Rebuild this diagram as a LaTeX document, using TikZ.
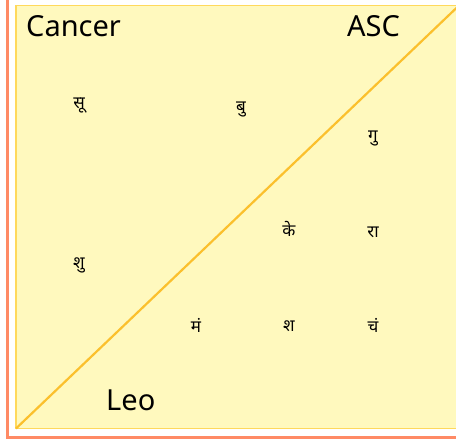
\documentclass[tikz,border=0pt]{standalone}
\usepackage{fontspec}
\setmainfont{Noto Sans}
\newfontfamily\deva[Script=Devanagari]{Noto Sans}
\definecolor{salmon}{HTML}{FF8A65}
\definecolor{boxfill}{HTML}{FFF9BE}
\definecolor{boxline}{HTML}{FFD95C}
\definecolor{diag}{HTML}{FBC02D}
\tikzset{
  lbl/.style={font=\fontsize{29}{32}\selectfont, inner sep=0pt, text=black},
  pl/.style={font=\deva\fontsize{17}{19}\selectfont, inner sep=0pt, text=black},
}
\begin{document}
\begin{tikzpicture}[x=1pt,y=-1pt]
\useasboundingbox (0,0) rectangle (456,439);
\begin{scope}
\clip (0,0) rectangle (456,439);
\draw[salmon, line width=2.6pt] (7.3,-10) rectangle (480,437.6);
\coordinate (bl) at (16,428.5);
\coordinate (tr) at (459,5.5);
\fill[boxfill] (bl) rectangle (tr);
\draw[boxline, line width=1.5pt] (bl) rectangle (tr);
\draw[diag, line width=2.2pt] (bl) -- (tr);
\end{scope}
\node[lbl, anchor=base west] (cancer) at (26,36) {Cancer};
\node[lbl, anchor=base west] (asc) at (347,36) {ASC};
\node[lbl, anchor=base west] (leo) at (106,410) {Leo};
\node[pl] (su) at (79,106) {सू};
\node[pl] (bu) at (241,109) {बु};
\node[pl] (gu) at (373,138) {गु};
\node[pl] (ke) at (289,229) {के};
\node[pl] (ra) at (373,232) {रा};
\node[pl] (shu) at (79,265) {शु};
\node[pl] (ma) at (196,325) {मं};
\node[pl] (sha) at (289,326) {श};
\node[pl] (cha) at (373,325) {चं};
\end{tikzpicture}
\end{document}
